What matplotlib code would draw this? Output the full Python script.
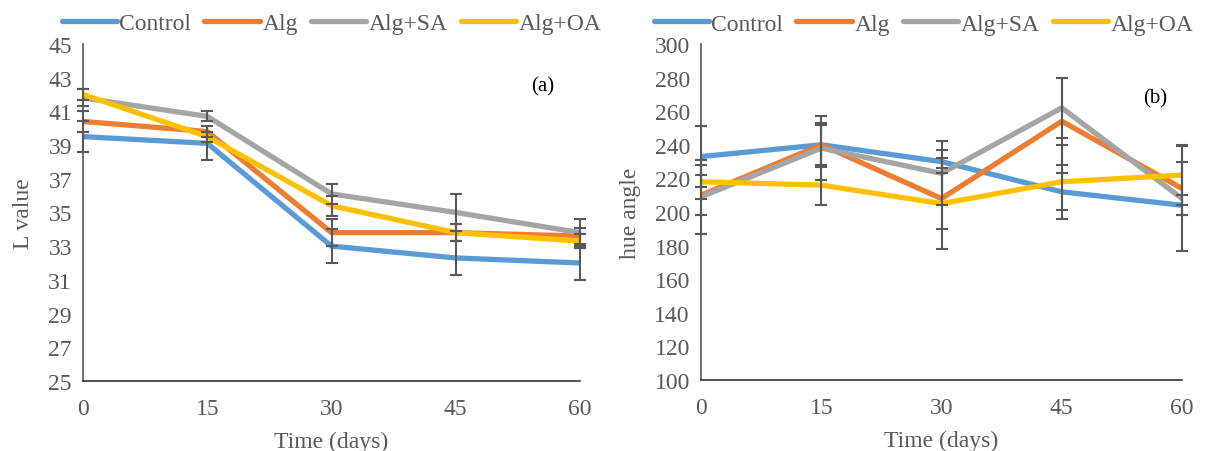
import matplotlib
matplotlib.use("Agg")
import matplotlib.pyplot as plt

plt.rcParams['font.family'] = ['Liberation Serif', 'DejaVu Serif']

days = [0, 15, 30, 45, 60]
series = ["Control", "Alg", "Alg+SA", "Alg+OA"]
colors = ["#5b9bd5", "#ed7d31", "#a5a5a5", "#ffc000"]

# panel (a): L value
L_control = [39.5, 39.1, 33.0, 32.3, 32.0]
L_alg = [40.4, 39.8, 33.8, 33.8, 33.6]
L_sa = [41.8, 40.7, 36.1, 35.0, 33.8]
L_oa = [42.0, 39.5, 35.4, 33.8, 33.3]
L_err_control = [0.9, 1.0, 1.0, 1.0, 1.0]
L_err_alg = [0.6, 0.3, 0.8, 0.5, 0.5]
L_err_sa = [0.5, 0.3, 0.6, 1.1, 0.8]
L_err_oa = [0.3, 0.3, 0.6, 0.5, 0.4]

# panel (b): hue angle
H_control = [233, 240, 230, 212, 204]
H_alg = [210, 240, 208, 254, 214]
H_sa = [209, 238, 223, 262, 208]
H_oa = [218, 216, 205, 218, 222]
H_err_control = [18, 12, 7, 11, 6]
H_err_alg = [12, 13, 18, 26, 16]
H_err_sa = [22, 19, 19, 18, 31]
H_err_oa = [10, 12, 27, 22, 18]

gray = "#595959"

fig = plt.figure(figsize=(12.07, 4.52), dpi=100)
ax1 = fig.add_axes([0.0688, 0.155, 0.4117, 0.7456])
ax2 = fig.add_axes([0.5808, 0.157, 0.3985, 0.7435])


def draw(ax, vals, errs, ylim, yticks, ylabel, tag, tagpos, legx):
    for v, c, name in zip(vals, colors, series):
        ax.plot(days, v, color=c, lw=3.8, label=name, solid_capstyle='round', zorder=2)
    for v, e in zip(vals, errs):
        ax.errorbar(days, v, yerr=e, fmt='none', ecolor=gray, elinewidth=1.5,
                    capsize=4.5, capthick=1.5, zorder=3, clip_on=False)
    ax.set_xlim(0, 60)
    ax.set_ylim(*ylim)
    ax.set_xticks(days)
    ax.set_yticks(yticks)
    ax.tick_params(length=0, labelsize=17, labelcolor=gray)
    ax.tick_params(axis='x', pad=12)
    ax.tick_params(axis='y', pad=8)
    for s in ["top", "right"]:
        ax.spines[s].set_visible(False)
    ax.spines["left"].set_color(gray)
    ax.spines["left"].set_linewidth(1.2)
    ax.spines["bottom"].set_color("#333333")
    ax.spines["bottom"].set_linewidth(1.2)
    ax.set_xlabel("Time (days)", fontsize=17, color=gray, labelpad=9)
    ax.set_ylabel(ylabel, fontsize=17, color=gray, labelpad=10)
    ax.text(tagpos[0], tagpos[1], tag, transform=ax.transAxes, fontsize=15, ha='center', va='center')
    ax.legend(loc='lower center', bbox_to_anchor=(legx, 1.0), ncol=4, frameon=False,
              fontsize=17, handlelength=2.35, handletextpad=0.1, columnspacing=0.55,
              labelcolor=gray, borderaxespad=0.0)


draw(ax1, [L_control, L_alg, L_sa, L_oa], [L_err_control, L_err_alg, L_err_sa, L_err_oa],
     (25, 45), list(range(25, 46, 2)), "L value", "(a)", (0.925, 0.875), 0.5)
draw(ax2, [H_control, H_alg, H_sa, H_oa], [H_err_control, H_err_alg, H_err_sa, H_err_oa],
     (100, 300), list(range(100, 301, 20)), "hue angle", "(b)", (0.945, 0.84), 0.4625)

fig.savefig("out.png", dpi=100)
